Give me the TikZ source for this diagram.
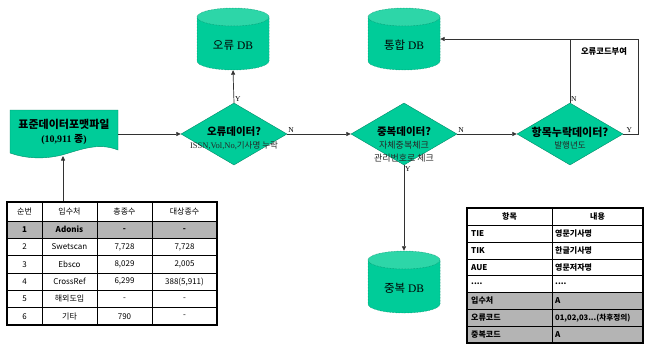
\documentclass[tikz,border=0pt]{standalone}
\usepackage{fontspec}
\setmainfont{Liberation Serif}
\newfontfamily\kr{Noto Sans CJK KR}
\usetikzlibrary{shapes.geometric,arrows.meta,calc}
\definecolor{fgreen}{RGB}{0,204,153}
\definecolor{ftop}{RGB}{45,214,168}
\definecolor{fedge}{RGB}{0,140,105}
\definecolor{rowgray}{RGB}{180,180,180}
\definecolor{lnc}{RGB}{50,50,50}
\newcommand\dbcyl[4]{%
  \fill[fgreen] (#2-36,#3+9) -- (#2-36,#3+53) arc[start angle=180,end angle=360,x radius=36pt,y radius=9pt] -- (#2+36,#3+9) -- cycle;
  \draw[fedge,densely dotted,line width=0.5pt] (#2-36,#3+9) -- (#2-36,#3+53) arc[start angle=180,end angle=360,x radius=36pt,y radius=9pt] -- (#2+36,#3+9);
  \filldraw[fill=ftop,draw=fedge,densely dotted,line width=0.5pt] (#2,#3+9) ellipse[x radius=36pt,y radius=9pt];
  \node[minimum width=72pt,minimum height=62pt,inner sep=0pt] (#1) at (#2,#3+31) {};
  \node[font=\fontsize{11.5}{13}\selectfont] (#1-lab) at (#2,#3+37) {#4};
}
\begin{document}
\begin{tikzpicture}[x=1pt,y=-1pt,
  dia/.style={diamond,fill=fgreen,draw=fedge,line width=0.4pt,minimum width=106pt,minimum height=62pt,inner sep=0pt},
  ttl/.style={font=\kr\bfseries\fontsize{10.5}{12}\selectfont,inner sep=0pt},
  sub/.style={font=\fontsize{8.5}{10}\selectfont,inner sep=0pt,text=black!85},
  yn/.style={font=\fontsize{7.5}{8}\selectfont,inner sep=1pt},
  ln/.style={draw=lnc,line width=0.7pt},
  arr/.style={ln,-{Triangle[length=4.5pt,width=4pt]}},
  tc/.style={font=\kr\fontsize{8}{9}\selectfont,inner sep=0pt},
  tb/.style={font=\kr\bfseries\fontsize{8}{9}\selectfont,inner sep=0pt},
]
\useasboundingbox[fill=white] (0,0) rectangle (647,345);

% document shape
\filldraw[fill=fgreen,draw=fedge,line width=0.4pt] (10,110) -- (118,110) -- (118,150)
  .. controls (98,142) and (80,150) .. (62,155) .. controls (42,160) and (24,158) .. (10,153) -- cycle;
\node[minimum width=108pt,minimum height=42pt,inner sep=0pt] (doc) at (64,131) {};
\node[ttl,font=\kr\bfseries\fontsize{11}{12}\selectfont] (doct) at (64,124) {표준데이터포맷파일};
\node[font=\bfseries\fontsize{10}{12}\selectfont,inner sep=0pt] (docn) at (64,140) {(10,911 {\kr 종})};

% diamonds
\node[dia] (d1) at (234,134) {};
\node[ttl] (d1t) at (234,132) {오류데이터?};
\node[sub] (d1s) at (234,146) {ISSN,Vol,No,{\kr 기사명 누락}};

\node[dia] (d2) at (404,134) {};
\node[ttl] (d2t) at (404,132) {중복데이터?};
\node[sub,font=\kr\fontsize{9}{10}\selectfont] (d2s) at (404,145) {자체중복체크};
\node[sub,font=\kr\fontsize{9}{10}\selectfont] (d2s2) at (404,158) {관리번호로 체크};

\node[dia] (d3) at (570,134) {};
\node[ttl,font=\kr\bfseries\fontsize{11}{12}\selectfont] (d3t) at (570,132) {항목누락데이터?};
\node[sub,font=\kr\fontsize{8.5}{10}\selectfont] (d3s) at (570,145) {발행년도};

% cylinders
\dbcyl{errdb}{233}{8}{{\kr 오류} DB}
\dbcyl{tongdb}{404}{8}{{\kr 통합} DB}
\dbcyl{dupdb}{404}{251}{{\kr 중복} DB}

% connectors
\draw[arr] (doc.east |- d1.west) -- (d1.west);
\draw[arr] (d1.north) -- (errdb.south);
\node[yn,anchor=south west] (y1) at (d1.north) {Y};
\draw[arr] (d1.east) -- (d2.west);
\node[yn,anchor=south west] (n1) at (d1.east) {N};
\draw[arr] (d2.east) -- (d3.west);
\node[yn,anchor=south west] (n2) at (d2.east) {N};
\draw[arr] (d2.south) -- (dupdb.north);
\node[yn,anchor=north west] (y2) at (d2.south) {Y};
\coordinate (cr) at (638,39);
\draw[ln] (d3.east) -| (cr) -- (cr -| d3.north);
\draw[arr] (d3.north) |- (tongdb.east);
\node[yn,anchor=south west] (n3) at (d3.north) {N};
\node[yn,anchor=south east] (y3) at ($(d3.east)+(10,0)$) {Y};
\node[tb,font=\kr\bfseries\fontsize{8.3}{9}\selectfont] (err) at (604,51) {오류코드부여};

% left table
\fill[rowgray] (7,221) rectangle (217,238.33);
\foreach \yy in {221,238.33,255.67,273,290.33,307.67} \draw[black,line width=0.4pt] (7,\yy) -- (217,\yy);
\foreach \xx in {42,97,152} \draw[black,line width=0.4pt] (\xx,202) -- (\xx,325);
\node[draw=black,line width=1.3pt,minimum width=210pt,minimum height=123pt,inner sep=0pt] (tbl1) at (112,263.5) {};
\coordinate (docb) at (63,156);
\draw[arr] (tbl1.north -| docb) -- (docb);
\foreach \r/\yy/\a/\b/\c/\d in {0/211.5/순번/입수처/총종수/대상종수,
   2/247/2/Swetscan/{7,728}/{7,728}, 3/264.33/3/Ebsco/{8,029}/{2,005},
   4/281.67/4/CrossRef/{6,299}/{388(5,911)}, 5/299/5/해외도입/-/-, 6/316.33/6/기타/790/-}{
  \node[tc] (la\r) at (24.5,\yy) {\a};
  \node[tc] (lb\r) at (69.5,\yy) {\b};
  \node[tc] (lc\r) at (124.5,\yy) {\c};
  \node[tc] (ld\r) at (184.5,\yy) {\d};
}
\node[tb] (la1) at (24.5,229.67) {1};
\node[tb] (lb1) at (69.5,229.67) {Adonis};
\node[tb] (lc1) at (124.5,229.67) {-};
\node[tb] (ld1) at (184.5,229.67) {-};

% right table
\fill[rowgray] (467,292.43) rectangle (643,343);
\foreach \yy in {225,241.86,258.71,275.57,292.43,309.29,326.14} \draw[black,line width=0.4pt] (467,\yy) -- (643,\yy);
\draw[black,line width=0.4pt] (552,208) -- (552,343);
\node[draw=black,line width=1.2pt,minimum width=176pt,minimum height=135pt,inner sep=0pt] (tbl2) at (555,275.5) {};
\node[tb] (rh1) at (509.5,216.5) {항목};
\node[tb] (rh2) at (597.5,216.5) {내용};
\foreach \r/\yy/\a/\b in {1/233.43/TIE/영문기사명, 2/250.29/TIK/한글기사명, 3/267.14/AUE/영문저자명,
   5/300.86/입수처/A, 7/334.57/중복코드/A}{
  \node[tb,anchor=west] (ra\r) at (471,\yy) {\a};
  \node[tb,anchor=west] (rb\r) at (555,\yy) {\b};
}
\node[tb,anchor=west] (ra4) at (471,284) {....};
\node[tb,anchor=west] (rb4) at (555,284) {....};
\node[tb,anchor=west] (ra6) at (471,317.71) {오류코드};
\node[tb,anchor=west,font=\kr\bfseries\fontsize{7.6}{9}\selectfont] (rb6) at (555,317.71) {01,02,03...(차후정의)};
\end{tikzpicture}
\end{document}
